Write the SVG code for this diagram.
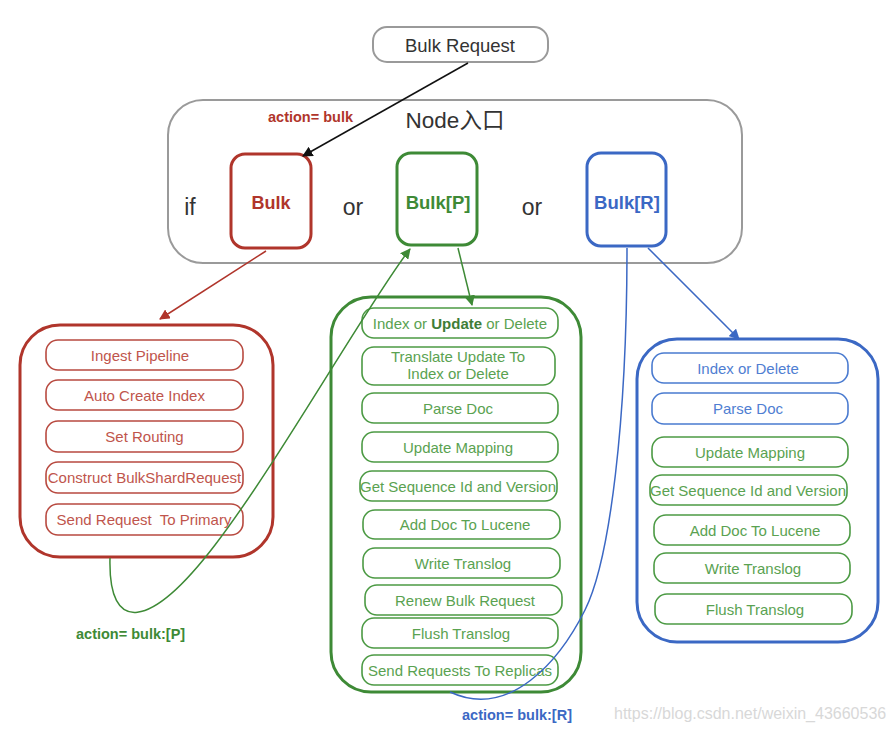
<svg xmlns="http://www.w3.org/2000/svg" width="895" height="732" viewBox="0 0 895 732">
<defs>
<style>
text{font-family:"Liberation Sans",Arial,sans-serif;text-anchor:middle}
.g{fill:none;stroke:#9a9a9a;stroke-width:2}
.bigr{fill:none;stroke:#b0352b;stroke-width:3}
.bigg{fill:none;stroke:#3e8a36;stroke-width:3}
.bigb{fill:none;stroke:#3b68c4;stroke-width:3}
.ir{fill:none;stroke:#b84a40;stroke-width:1.6}
.ig{fill:none;stroke:#4c9a44;stroke-width:1.6}
.ib{fill:none;stroke:#4a7bd0;stroke-width:1.6}
.tr{fill:#c0554c;font-size:15px}
.tg{fill:#5aa251;font-size:15px}
.tb{fill:#4f7ed2;font-size:15px}
.lbl{font-weight:bold;font-size:14.5px;text-anchor:start}
</style>
<marker id="ak" viewBox="0 0 10 10" refX="9" refY="5" markerWidth="7" markerHeight="7" orient="auto"><path d="M0,0 L10,5 L0,10 z" fill="#111"/></marker>
<marker id="ar" viewBox="0 0 10 10" refX="9" refY="5" markerWidth="7" markerHeight="7" orient="auto"><path d="M0,0 L10,5 L0,10 z" fill="#b0352b"/></marker>
<marker id="ag" viewBox="0 0 10 10" refX="9" refY="5" markerWidth="7" markerHeight="7" orient="auto"><path d="M0,0 L10,5 L0,10 z" fill="#3e8a36"/></marker>
<marker id="ab" viewBox="0 0 10 10" refX="9" refY="5" markerWidth="7" markerHeight="7" orient="auto"><path d="M0,0 L10,5 L0,10 z" fill="#3b68c4"/></marker>
</defs>
<rect width="895" height="732" fill="#fff"/>

<g id="bulk-request">
<rect class="g" x="373" y="27" width="175" height="35" rx="14"/>
<text x="460" y="52" font-size="18.5" fill="#333">Bulk Request</text>
</g>

<g id="node-entry">
<rect class="g" x="168" y="100" width="574" height="163" rx="35"/>
<text x="455" y="128" font-size="22.5" fill="#333" style="font-family:'Liberation Sans','Noto Sans CJK SC',sans-serif">Node入口</text>
<text x="190" y="215" font-size="23" fill="#333">if</text>
<text x="353" y="215" font-size="23" fill="#333">or</text>
<text x="532" y="215" font-size="23" fill="#333">or</text>
</g>

<g id="bulk">
<rect x="231" y="154" width="80" height="94" rx="14" fill="none" stroke="#b0352b" stroke-width="3"/>
<text x="271" y="209" font-size="18" font-weight="bold" fill="#b0352b">Bulk</text>
</g>
<g id="bulk-p">
<rect x="397" y="153" width="80" height="92" rx="14" fill="none" stroke="#3e8a36" stroke-width="3"/>
<text x="438" y="209" font-size="18.5" font-weight="bold" fill="#3e8a36">Bulk[P]</text>
</g>
<g id="bulk-r">
<rect x="587" y="153" width="79" height="93" rx="14" fill="none" stroke="#3b68c4" stroke-width="3"/>
<text x="627" y="209" font-size="18.5" font-weight="bold" fill="#3b68c4">Bulk[R]</text>
</g>

<g id="coordinating">
<rect class="bigr" x="20" y="325" width="253" height="232" rx="40"/>
<rect class="ir" x="46" y="340" width="197" height="30" rx="12"/>
<text class="tr" x="140" y="360.5">Ingest Pipeline</text>
<rect class="ir" x="46" y="380" width="197" height="30" rx="12"/>
<text class="tr" x="144.5" y="400.5">Auto Create Index</text>
<rect class="ir" x="46" y="421" width="197" height="31" rx="12"/>
<text class="tr" x="144.5" y="442">Set Routing</text>
<rect class="ir" x="46" y="462" width="197" height="31" rx="12"/>
<text class="tr" x="144.5" y="483">Construct BulkShardRequest</text>
<rect class="ir" x="46" y="504" width="197" height="31" rx="12"/>
<text class="tr" x="144" y="525" xml:space="preserve">Send Request  To Primary</text>
</g>

<g id="primary">
<rect class="bigg" x="331" y="297" width="250" height="395" rx="40"/>
<rect class="ig" x="362" y="308" width="196" height="30" rx="12"/>
<text class="tg" x="460" y="328.5">Index or <tspan font-weight="bold" fill="#3e7d37">Update</tspan> or Delete</text>
<rect class="ig" x="362" y="347" width="193" height="38" rx="12"/>
<text class="tg" x="458" y="362">Translate Update To</text>
<text class="tg" x="458" y="379">Index or Delete</text>
<rect class="ig" x="362" y="393" width="196" height="30" rx="12"/>
<text class="tg" x="458" y="413.5">Parse Doc</text>
<rect class="ig" x="362" y="432" width="196" height="30" rx="12"/>
<text class="tg" x="458" y="452.5">Update Mapping</text>
<rect class="ig" x="360" y="471" width="197" height="30" rx="12"/>
<text class="tg" x="458" y="491.5">Get Sequence Id and Version</text>
<rect class="ig" x="363" y="510" width="197" height="29" rx="12"/>
<text class="tg" x="465" y="530">Add Doc To Lucene</text>
<rect class="ig" x="363" y="548" width="197" height="30" rx="12"/>
<text class="tg" x="463" y="568.5">Write Translog</text>
<rect class="ig" x="365" y="585" width="197" height="30" rx="12"/>
<text class="tg" x="465" y="605.5">Renew Bulk Request</text>
<rect class="ig" x="362" y="618" width="196" height="30" rx="12"/>
<text class="tg" x="461" y="638.5">Flush Translog</text>
<rect class="ig" x="362" y="655" width="196" height="30" rx="12"/>
<text class="tg" x="460" y="675.5">Send Requests To Replicas</text>
</g>

<g id="replica">
<rect class="bigb" x="637" y="339" width="241" height="303" rx="40"/>
<rect class="ib" x="652" y="353" width="196" height="30" rx="12"/>
<text class="tb" x="748" y="373.5">Index or Delete</text>
<rect class="ib" x="652" y="393" width="196" height="31" rx="12"/>
<text class="tb" x="748" y="414">Parse Doc</text>
<rect class="ig" x="652" y="437" width="196" height="30" rx="12"/>
<text class="tg" x="750" y="457.5">Update Mapping</text>
<rect class="ig" x="650" y="475" width="197" height="30" rx="12"/>
<text class="tg" x="748" y="495.5">Get Sequence Id and Version</text>
<rect class="ig" x="654" y="515" width="196" height="30" rx="12"/>
<text class="tg" x="755" y="535.5">Add Doc To Lucene</text>
<rect class="ig" x="654" y="553" width="196" height="30" rx="12"/>
<text class="tg" x="753" y="573.5">Write Translog</text>
<rect class="ig" x="655" y="594" width="197" height="30" rx="12"/>
<text class="tg" x="755" y="614.5">Flush Translog</text>
</g>

<g id="connectors">
<line x1="468" y1="63" x2="303" y2="156" stroke="#111" stroke-width="1.5" marker-end="url(#ak)"/>
<line x1="266" y1="251" x2="160" y2="319" stroke="#b0352b" stroke-width="1.5" marker-end="url(#ar)"/>
<line x1="458" y1="248" x2="472" y2="305" stroke="#3e8a36" stroke-width="1.5" marker-end="url(#ag)"/>
<line x1="648" y1="248" x2="739" y2="339" stroke="#3b68c4" stroke-width="1.5" marker-end="url(#ab)"/>
<path d="M110,558 C108,635 150,630 215,545 S370,300 410,249" fill="none" stroke="#3e8a36" stroke-width="1.5" marker-end="url(#ag)"/>
<path d="M627,248 C627,420 610,560 585,610 S510,720 450,692" fill="none" stroke="#3b68c4" stroke-width="1.5"/>
<text class="lbl" x="268" y="122" fill="#b0352b">action= bulk</text>
<text class="lbl" x="76" y="639" fill="#3e8a36">action= bulk:[P]</text>
<text class="lbl" x="462" y="720" fill="#3b68c4">action= bulk:[R]</text>
</g>

<text x="614" y="719" font-size="16" fill="#d8d8d8" style="text-anchor:start">https://blog.csdn.net/weixin_43660536</text>
</svg>
